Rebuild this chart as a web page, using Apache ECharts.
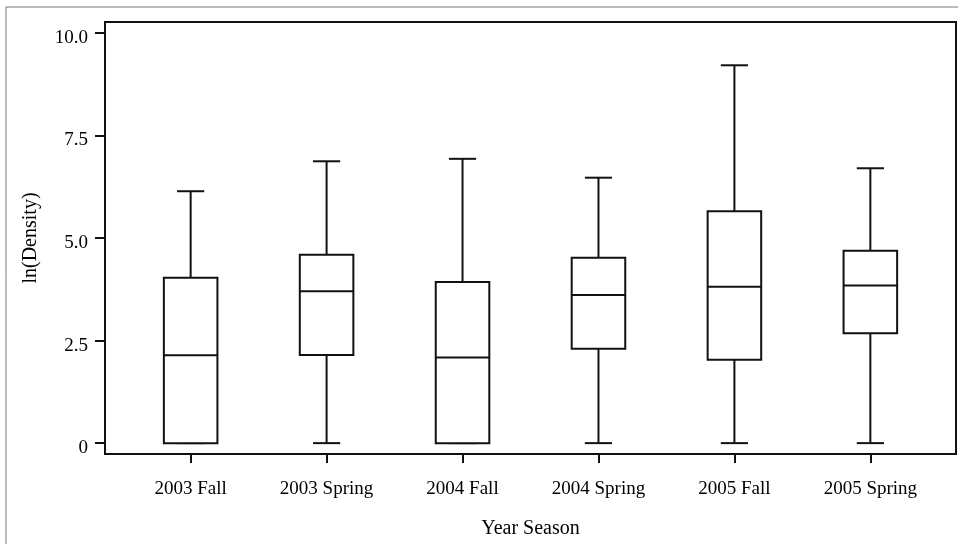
<!DOCTYPE html>
<html>
<head>
<meta charset="utf-8">
<script src="https://cdn.jsdelivr.net/npm/echarts@6/dist/echarts.min.js"></script>
<style>
html,body{margin:0;padding:0;background:#fff;}
#chart{width:958px;height:544px;}
</style>
</head>
<body>
<div id="chart"></div>
<script>
// Data
var categories = ['2003 Fall', '2003 Spring', '2004 Fall', '2004 Spring', '2005 Fall', '2005 Spring'];
var whiskerLow = [0, 0, 0, 0, 0, 0];
var quartile1  = [0, 2.15, 0, 2.30, 2.03, 2.68];
var medians    = [2.14, 3.70, 2.09, 3.61, 3.81, 3.84];
var quartile3  = [4.03, 4.59, 3.93, 4.52, 5.65, 4.69];
var whiskerHigh = [6.14, 6.87, 6.93, 6.47, 9.21, 6.70];
var yTicks = [0, 2.5, 5, 7.5, 10];
var xTicks = [0, 1, 2, 3, 4, 5];

var boxData = categories.map(function (c, i) {
  return [i, whiskerLow[i], quartile1[i], medians[i], quartile3[i], whiskerHigh[i]];
});

var LINE = '#111';
var FONT = 'Liberation Serif';

var chart = echarts.init(document.getElementById('chart'), null, {renderer: 'canvas'});
chart.setOption({
  backgroundColor: '#fff',
  animation: false,
  grid: {
    left: 105, right: 2, top: 22, bottom: 85,
    show: true, borderColor: LINE, borderWidth: 2, backgroundColor: 'transparent'
  },
  xAxis: {
    type: 'value',
    min: -0.63, max: 5.63,
    name: 'Year Season',
    nameLocation: 'middle',
    nameGap: 65,
    nameTextStyle: {fontFamily: FONT, fontSize: 20, color: '#000'},
    axisLine: {show: true, onZero: false, lineStyle: {color: LINE, width: 2}},
    axisTick: {show: true, customValues: xTicks, length: 9, lineStyle: {color: LINE, width: 2}},
    axisLabel: {
      show: true, customValues: xTicks, margin: 26,
      fontFamily: FONT, fontSize: 19, color: '#000',
      formatter: function (v) { return categories[Math.round(v)] || ''; }
    },
    splitLine: {show: false}
  },
  yAxis: {
    type: 'value',
    min: -0.265, max: 10.265,
    name: 'ln(Density)',
    nameLocation: 'middle',
    nameGap: 64,
    nameTextStyle: {fontFamily: FONT, fontSize: 20, color: '#000'},
    axisLine: {show: true, onZero: false, lineStyle: {color: LINE, width: 2}},
    axisTick: {show: true, customValues: yTicks, length: 10, lineStyle: {color: LINE, width: 2}},
    axisLabel: {
      show: true, customValues: yTicks, margin: 17,
      fontFamily: FONT, fontSize: 19, color: '#000',
      verticalAlign: 'top', lineHeight: 10,
      formatter: function (v) { return v === 0 ? '0' : v.toFixed(1); }
    },
    splitLine: {show: false}
  },
  graphic: [
    {type: 'line', shape: {x1: 6, y1: 7, x2: 958, y2: 7}, style: {stroke: '#777', lineWidth: 1}, silent: true},
    {type: 'line', shape: {x1: 6, y1: 7, x2: 6, y2: 544}, style: {stroke: '#777', lineWidth: 1}, silent: true}
  ],
  series: [{
    type: 'custom',
    data: boxData,
    encode: {x: 0, y: [1, 2, 3, 4, 5]},
    renderItem: function (params, api) {
      var x = api.value(0);
      var pLo = api.coord([x, api.value(1)]);
      var pQ1 = api.coord([x, api.value(2)]);
      var pMed = api.coord([x, api.value(3)]);
      var pQ3 = api.coord([x, api.value(4)]);
      var pHi = api.coord([x, api.value(5)]);
      var bw = api.size([0.394, 0])[0];
      var cw = api.size([0.2, 0])[0];
      var cx = pMed[0];
      var st = {stroke: LINE, lineWidth: 2, fill: null};
      return {
        type: 'group',
        children: [
          {type: 'line', shape: {x1: cx, y1: pQ3[1], x2: cx, y2: pHi[1]}, style: st},
          {type: 'line', shape: {x1: cx, y1: pLo[1], x2: cx, y2: pQ1[1]}, style: st},
          {type: 'line', shape: {x1: cx - cw / 2, y1: pHi[1], x2: cx + cw / 2, y2: pHi[1]}, style: st},
          {type: 'line', shape: {x1: cx - cw / 2, y1: pLo[1], x2: cx + cw / 2, y2: pLo[1]}, style: st},
          {type: 'rect', shape: {x: cx - bw / 2, y: pQ3[1], width: bw, height: pQ1[1] - pQ3[1]},
            style: {stroke: LINE, lineWidth: 2, fill: '#fff'}},
          {type: 'line', shape: {x1: cx - bw / 2, y1: pMed[1], x2: cx + bw / 2, y2: pMed[1]}, style: st}
        ]
      };
    }
  }]
});
</script>
</body>
</html>
